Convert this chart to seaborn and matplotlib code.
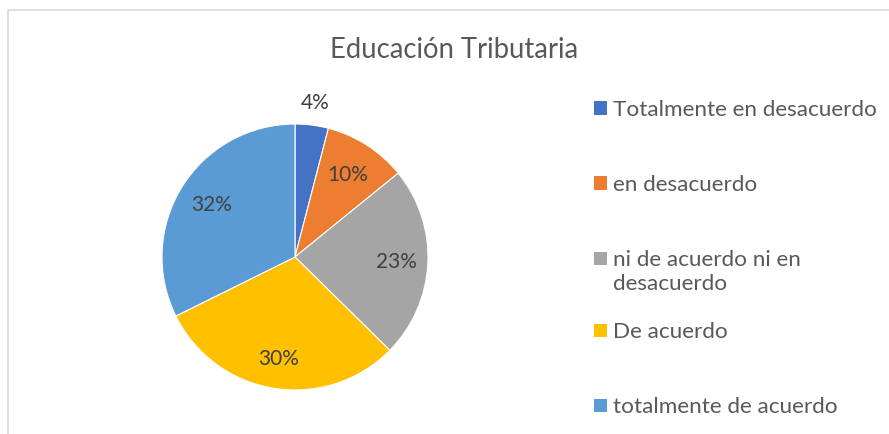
import numpy as np
import matplotlib
matplotlib.use("Agg")
import matplotlib.pyplot as plt
from matplotlib.patches import Rectangle
import seaborn as sns

sns.set_theme(style="white")
plt.rcParams['font.family'] = ['Lato', 'DejaVu Sans']

# datos (porcentajes)
titulo = "Educación Tributaria"
categorias = ["Totalmente en desacuerdo", "en desacuerdo",
              "ni de acuerdo ni en\ndesacuerdo", "De acuerdo",
              "totalmente de acuerdo"]
porcentajes = [4, 10, 23, 30, 32]
colores = sns.color_palette(["#4472C4", "#ED7D31", "#A5A5A5", "#FFC000", "#5B9BD5"])

W, H = 889, 434
fig = plt.figure(figsize=(W / 100, H / 100), dpi=100)

# marco del gráfico (sale por la derecha y por abajo)
fig.patches.append(Rectangle((7.5 / W, -0.1), 1.2, 1 - 10.5 / H + 0.1,
                             transform=fig.transFigure, fill=False,
                             edgecolor="#D9D9D9", linewidth=1.2))

# pie centrado en (295, 257) px con radio 133 px
cx, cy, r = 295, 257, 133
ax = fig.add_axes([(cx - r) / W, (H - cy - r) / H, 2 * r / W, 2 * r / H])
wedges, _ = ax.pie(porcentajes, colors=colores, startangle=90, counterclock=False,
                   wedgeprops=dict(linewidth=0.8, edgecolor="white"))
ax.set_xlim(-1, 1)
ax.set_ylim(-1, 1)
ax.set_aspect("equal")
ax.axis("off")

# etiquetas de porcentaje
dist = [1.17, 0.73, 0.76, 0.78, 0.74]
for w, p, d in zip(wedges, porcentajes, dist):
    ang = np.deg2rad((w.theta1 + w.theta2) / 2)
    ax.text(d * np.cos(ang), d * np.sin(ang), f"{p}%", ha="center", va="center",
            fontsize=15, color="#404040", clip_on=False)

fig.text(454 / W, 1 - 50 / H, titulo, ha="center", va="center",
         fontsize=19.8, color="#595959")

# leyenda a la derecha
ley_y = [108, 183, 258, 330, 405]
for lab, col, y in zip(categorias, colores, ley_y):
    fig.patches.append(Rectangle((594 / W, 1 - (y + 6.5) / H), 13 / W, 13 / H,
                                 transform=fig.transFigure, facecolor=col,
                                 edgecolor="none"))
    fig.text(613 / W, 1 - (y - 8) / H, lab, ha="left", va="top",
             fontsize=16.2, color="#595959", linespacing=1.22)

fig.savefig("out.png", dpi=100)
